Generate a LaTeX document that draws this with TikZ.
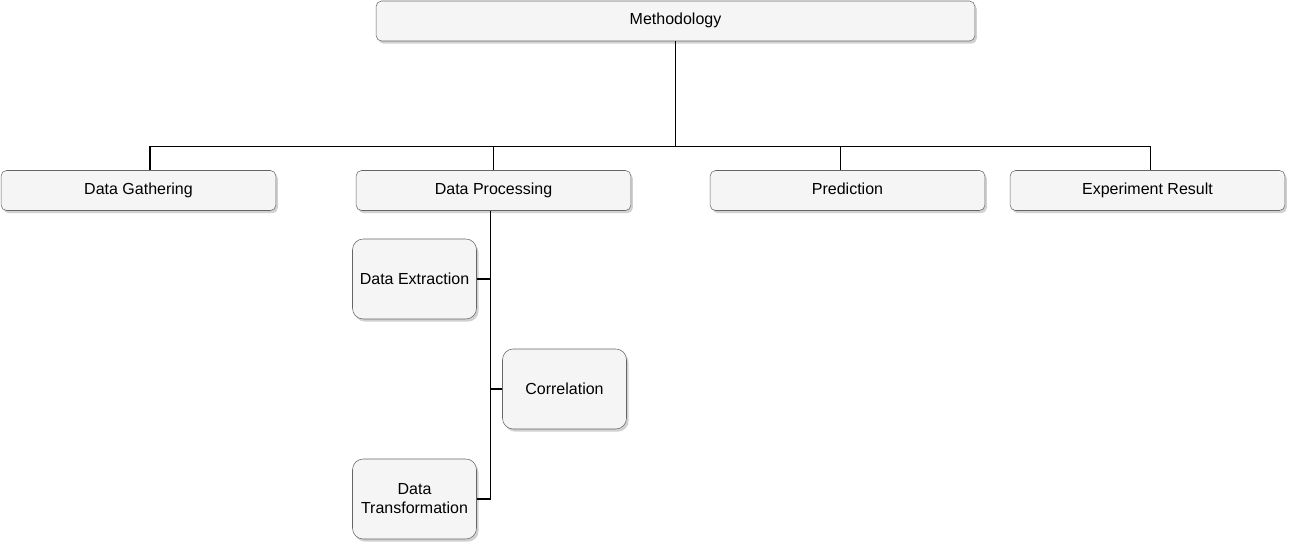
\documentclass[tikz,border=0pt]{standalone}
\usepackage{fontspec}
\setmainfont{Liberation Sans}
\usetikzlibrary{shadows}

\tikzset{
	tile/.style = {draw = black!60, fill = black!4, inner sep = 0pt, align = center, font = \fontsize{12pt}{14.3pt}\selectfont, drop shadow = {shadow xshift = 1.5pt, shadow yshift = -2pt, fill = black!30, opacity = 0.6}},
	box/.style = {tile, rounded corners = 4pt, minimum width = 206pt, minimum height = 30pt, text height = 1.6ex, text depth = 0.5ex},
	widebox/.style = {box, minimum width = 449pt},
	smallbox/.style = {tile, minimum width = 93pt, minimum height = 60pt, rounded corners = 8pt},
	link/.style = {draw = black, line width = 0.8pt}
}

\begin{document}
\begin{tikzpicture}[x = 0.75pt, y = -0.75pt]
		\useasboundingbox (0,0) rectangle (1289,543);
		\node[widebox] (meth) at (675.5,21) {Methodology};
		\node[box] (gath) at (138.5,190.5) {Data Gathering};
		\node[box] (proc) at (493.5,190.5) {Data Processing};
		\node[box] (pred) at (847.5,190.5) {Prediction};
		\node[box] (expr) at (1147.5,190.5) {Experiment Result};
		\node[smallbox] (extr) at (414.5,279) {Data Extraction};
		\node[smallbox] (corr) at (564.5,389) {Correlation};
		\node[smallbox] (trans) at (414.5,499) {Data\\Transformation};
		\draw[link] (meth.south) -- ++(0,105) coordinate (bus);
		\draw[link] (bus) -| ([xshift = 8.6pt]gath.north);
		\draw[link] (bus) -| (proc.north);
		\draw[link] (bus) -| ([xshift = -5pt]pred.north);
		\draw[link] (bus) -| ([xshift = 2pt]expr.north);
		\draw[link] ([xshift = -2.6pt]proc.south) |- (extr.east);
		\draw[link] ([xshift = -2.6pt]proc.south) |- (corr.west);
		\draw[link] ([xshift = -2.6pt]proc.south) |- (trans.east);
	\end{tikzpicture}
\end{document}
